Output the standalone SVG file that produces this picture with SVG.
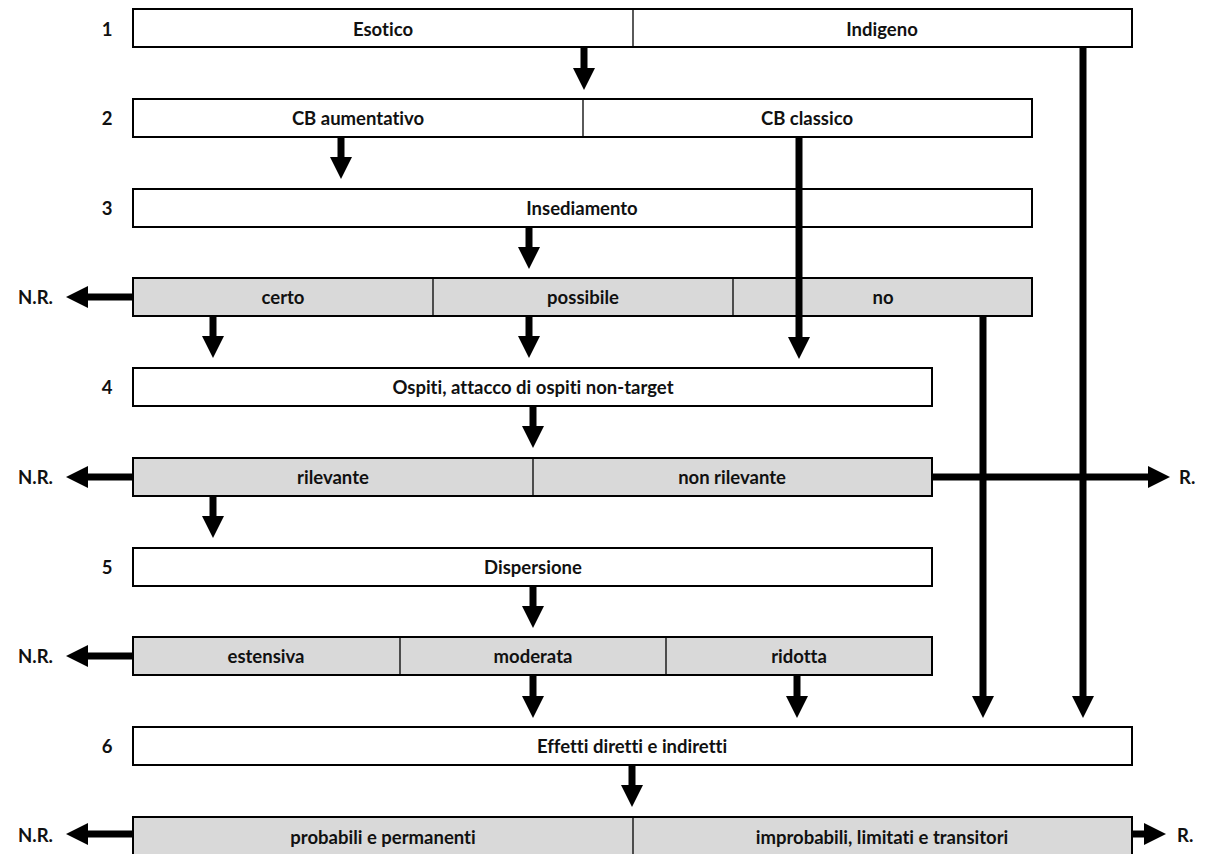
<svg xmlns="http://www.w3.org/2000/svg" width="1208" height="854" viewBox="0 0 1208 854">
<defs>
<style>
.box{fill:#fff;stroke:#000;stroke-width:2}
.g{fill:#d9d9d9;stroke:#000;stroke-width:2}
.div{stroke:#000;stroke-width:1.3}
text{font-family:Lato,"Liberation Sans",sans-serif;font-weight:bold;font-size:18.5px;fill:#111;text-anchor:middle;dominant-baseline:central;font-variant-ligatures:none}
.nr{text-anchor:end}
.r{text-anchor:start}
.conn line{stroke:#000;stroke-width:7;marker-end:url(#ah)}
</style>
<marker id="ah" viewBox="0 0 22 22" markerWidth="22" markerHeight="22" refX="0" refY="11" orient="auto" markerUnits="userSpaceOnUse">
<path d="M0,0 L22,11 L0,22 z" fill="#000"/>
</marker>
</defs>
<rect width="1208" height="854" fill="#fff"/>

<g id="row1">
<rect class="box" x="133" y="9" width="999" height="38"/>
<line class="div" x1="633" y1="9" x2="633" y2="47"/>
<text x="107" y="29">1</text>
<text x="383" y="29">Esotico</text>
<text x="882" y="29">Indigeno</text>
</g>
<g id="row2">
<rect class="box" x="133" y="99" width="899" height="38"/>
<line class="div" x1="583" y1="99" x2="583" y2="137"/>
<text x="107" y="118">2</text>
<text x="358" y="118">CB aumentativo</text>
<text x="807" y="118">CB classico</text>
</g>
<g id="row3">
<rect class="box" x="133" y="189" width="899" height="38"/>
<text x="107" y="208">3</text>
<text x="582" y="208">Insediamento</text>
</g>
<g id="row3b">
<rect class="g" x="133" y="278" width="899" height="38"/>
<line class="div" x1="433" y1="278" x2="433" y2="316"/>
<line class="div" x1="733" y1="278" x2="733" y2="316"/>
<text x="283" y="297">certo</text>
<text x="583" y="297">possibile</text>
<text x="883" y="297">no</text>
<text class="nr" x="53" y="297">N.R.</text>
</g>
<g id="row4">
<rect class="box" x="133" y="368" width="799" height="38"/>
<text x="107" y="387">4</text>
<text x="533" y="387">Ospiti, attacco di ospiti non-target</text>
</g>
<g id="row4b">
<rect class="g" x="133" y="458" width="799" height="38"/>
<line class="div" x1="533" y1="458" x2="533" y2="496"/>
<text x="333" y="477">rilevante</text>
<text x="732" y="477">non rilevante</text>
<text class="nr" x="53" y="477">N.R.</text>
<text class="r" x="1179" y="477">R.</text>
</g>
<g id="row5">
<rect class="box" x="133" y="548" width="799" height="38"/>
<text x="107" y="567">5</text>
<text x="533" y="567">Dispersione</text>
</g>
<g id="row5b">
<rect class="g" x="133" y="637" width="799" height="38"/>
<line class="div" x1="400" y1="637" x2="400" y2="675"/>
<line class="div" x1="666" y1="637" x2="666" y2="675"/>
<text x="266" y="656">estensiva</text>
<text x="533" y="656">moderata</text>
<text x="799" y="656">ridotta</text>
<text class="nr" x="53" y="656">N.R.</text>
</g>
<g id="row6">
<rect class="box" x="133" y="727" width="999" height="38"/>
<text x="107" y="746">6</text>
<text x="632" y="746">Effetti diretti e indiretti</text>
</g>
<g id="row6b">
<rect class="g" x="133" y="817" width="999" height="42"/>
<line class="div" x1="633" y1="817" x2="633" y2="856"/>
<text x="383" y="837">probabili e permanenti</text>
<text x="882" y="837">improbabili, limitati e transitori</text>
<text class="nr" x="53" y="835">N.R.</text>
<text class="r" x="1177" y="835">R.</text>
</g>

<g id="connectors" class="conn">
<line x1="584" y1="48" x2="584" y2="68"/>
<line x1="341" y1="138" x2="341" y2="157"/>
<line x1="529" y1="228" x2="529" y2="247"/>
<line x1="213" y1="317" x2="213" y2="336"/>
<line x1="529" y1="317" x2="529" y2="336"/>
<line x1="799" y1="138" x2="799" y2="337"/>
<line x1="983" y1="317" x2="983" y2="696"/>
<line x1="1083" y1="48" x2="1083" y2="696"/>
<line x1="533" y1="407" x2="533" y2="426"/>
<line x1="213" y1="497" x2="213" y2="516"/>
<line x1="533" y1="587" x2="533" y2="606"/>
<line x1="533" y1="676" x2="533" y2="696"/>
<line x1="797" y1="676" x2="797" y2="696"/>
<line x1="632" y1="766" x2="632" y2="785"/>
<line x1="132" y1="297" x2="88" y2="297"/>
<line x1="132" y1="477" x2="88" y2="477"/>
<line x1="132" y1="656" x2="88" y2="656"/>
<line x1="132" y1="834" x2="88" y2="834"/>
<line x1="933" y1="477" x2="1148" y2="477"/>
<line x1="1133" y1="834" x2="1144" y2="834"/>
</g>
</svg>
